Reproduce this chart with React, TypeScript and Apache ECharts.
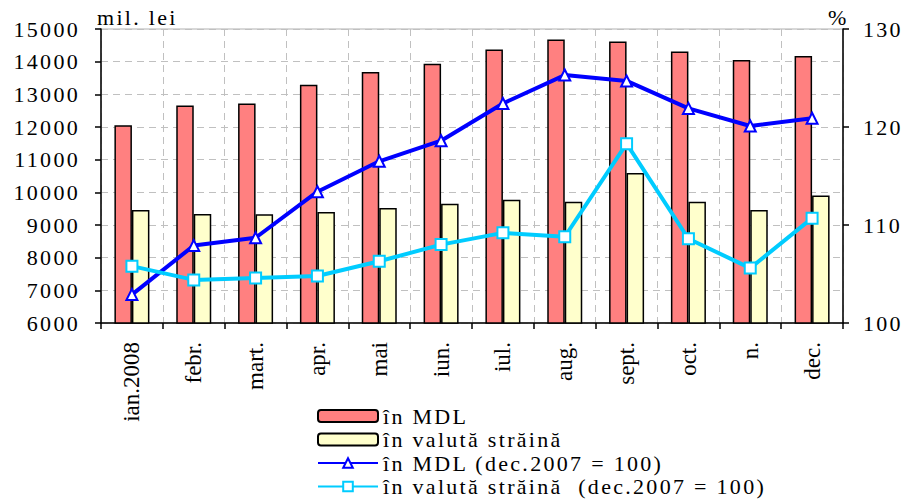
import React, { useEffect, useRef } from "react";
import * as echarts from "echarts";

const categories = ["ian.2008", "febr.", "mart.", "apr.", "mai", "iun.", "iul.", "aug.", "sept.", "oct.", "n.", "dec."];
const mdl = [12050, 12660, 12720, 13290, 13680, 13940, 14370, 14680, 14620, 14310, 14050, 14170];
const foreign = [9460, 9340, 9330, 9400, 9520, 9650, 9770, 9710, 10590, 9710, 9460, 9900];
const mdlIndex = [102.9, 107.9, 108.7, 113.4, 116.5, 118.6, 122.4, 125.3, 124.7, 121.9, 120.1, 120.9];
const foreignIndex = [105.8, 104.4, 104.6, 104.8, 106.3, 108.0, 109.2, 108.8, 118.3, 108.6, 105.6, 110.7];
const seriesNames = ["în MDL", "în valută străină", "în MDL (dec.2007 = 100)", "în valută străină  (dec.2007 = 100)"];

const FONT = "Liberation Serif";
const SPACING = "2.3px";

export default function App() {
  const ref = useRef<HTMLDivElement>(null);
  useEffect(() => {
    const el = ref.current;
    if (!el) return;
    const chart = echarts.init(el, null, { renderer: "svg" });
    const lbl = { fontFamily: FONT, fontSize: 22, color: "#000" };
    const spaceText = () => {
      el.querySelectorAll("text").forEach((t) => {
        const s = (t as SVGTextElement).style;
        const want = categories.includes((t.textContent || "").trim()) ? "0px" : SPACING;
        if (s.letterSpacing !== want) s.letterSpacing = want;
        if (s.whiteSpace !== "pre") s.whiteSpace = "pre";
      });
    };
    const observer = new MutationObserver(() => spaceText());
    observer.observe(el, { childList: true, subtree: true, characterData: true });
    chart.on("finished", spaceText);
    chart.setOption({
      animation: false,
      textStyle: { fontFamily: FONT },
      grid: {
        left: 101, right: 63, top: 29, bottom: 177,
        show: true, borderColor: "#b0b0b0", borderWidth: 1, backgroundColor: "transparent",
      },
      legend: {
        orient: "vertical",
        left: 317,
        top: 405,
        padding: 0,
        itemWidth: 60,
        itemHeight: 12,
        itemGap: 1.5,
        textStyle: { fontFamily: FONT, fontSize: 22, color: "#000" },
        data: seriesNames,
      },
      graphic: [
        { type: "text", left: 97, top: 6, style: { text: "mil. lei", fontFamily: FONT, fontSize: 22, fill: "#000" } },
        { type: "text", left: 828, top: 6, style: { text: "%", fontFamily: FONT, fontSize: 22, fill: "#000" } },
      ],
      xAxis: {
        type: "category",
        data: categories,
        boundaryGap: true,
        axisLine: { lineStyle: { color: "#000", width: 1.5 } },
        axisTick: { show: true, length: 6, interval: 0, lineStyle: { color: "#000", width: 1.5 } },
        axisLabel: { ...lbl, fontSize: 23, rotate: 90, interval: 0, margin: 19 },
        splitLine: { show: true, interval: 0, lineStyle: { color: "#c0c0c0", type: [7, 5], width: 1 } },
      },
      yAxis: [
        {
          type: "value",
          min: 6000, max: 15000, interval: 1000,
          axisLine: { show: true, lineStyle: { color: "#000", width: 1.5 } },
          axisTick: { show: true, length: 6, lineStyle: { color: "#000", width: 1.5 } },
          axisLabel: { ...lbl, margin: 21, formatter: (v: number) => String(v) },
          splitLine: { show: true, lineStyle: { color: "#c0c0c0", type: [7, 5], width: 1 } },
        },
        {
          type: "value",
          min: 100, max: 130, interval: 10,
          position: "right",
          axisLine: { show: true, lineStyle: { color: "#000", width: 1.5 } },
          axisTick: { show: true, length: 6, lineStyle: { color: "#000", width: 1.5 } },
          axisLabel: { ...lbl, margin: 20, formatter: (v: number) => String(v) },
          splitLine: { show: false },
        },
      ],
      series: [
        {
          name: seriesNames[0], type: "bar", data: mdl, barWidth: 17.5, barGap: "0%",
          itemStyle: { color: "#FF8080", borderColor: "#000", borderWidth: 1.5 },
        },
        {
          name: seriesNames[1], type: "bar", data: foreign, barWidth: 17.5, barGap: "0%",
          itemStyle: { color: "#FFFFCC", borderColor: "#000", borderWidth: 1.5 },
        },
        {
          name: seriesNames[2], type: "line", yAxisIndex: 1, data: mdlIndex,
          symbol: "triangle", symbolSize: 11, showAllSymbol: true,
          lineStyle: { color: "#0000FF", width: 4 },
          itemStyle: { color: "#FFFFFF", borderColor: "#0000FF", borderWidth: 2 },
          z: 5,
        },
        {
          name: seriesNames[3], type: "line", yAxisIndex: 1, data: foreignIndex,
          symbol: "rect", symbolSize: 11, showAllSymbol: true,
          lineStyle: { color: "#00CCFF", width: 4 },
          itemStyle: { color: "#FFFFFF", borderColor: "#00CCFF", borderWidth: 2 },
          z: 5,
        },
      ],
    });
    spaceText();
    const timer = setTimeout(spaceText, 50);
    return () => {
      clearTimeout(timer);
      observer.disconnect();
      chart.dispose();
    };
  }, []);
  return <div ref={ref} style={{ width: 906, height: 500, position: "absolute", left: 0, top: 0 }} />;
}
